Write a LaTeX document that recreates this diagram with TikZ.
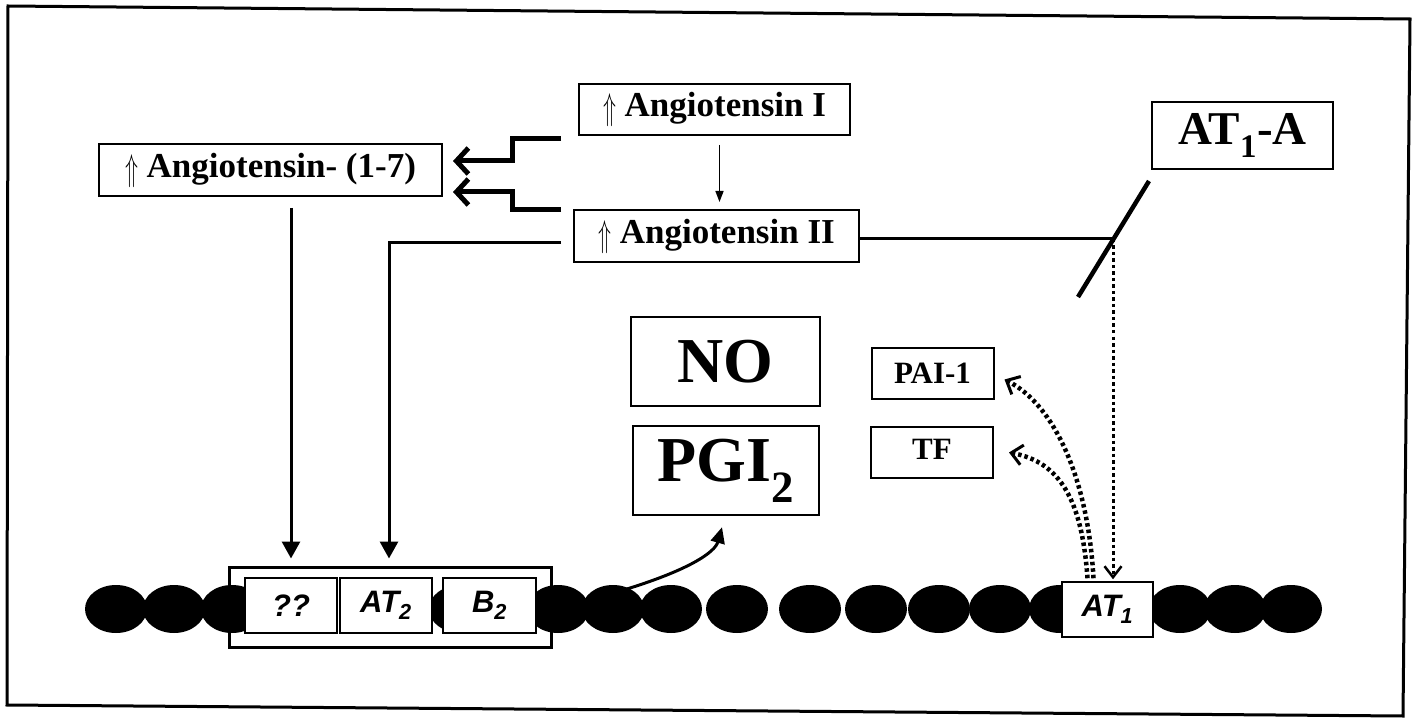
\documentclass[tikz,border=0pt]{standalone}
\usepackage{fontspec}
\setmainfont{Liberation Serif}
\setsansfont{Liberation Sans}
\usetikzlibrary{arrows.meta,shapes.geometric}
\newcommand{\uparr}{\raisebox{-3pt}{\scalebox{0.85}[1.5]{$\Uparrow$}}}
\begin{document}
\begin{tikzpicture}[x=1pt,y=-1pt,
  lbl/.style={draw,line width=2pt,fill=white,inner sep=0pt,font=\bfseries\fontsize{35}{40}\selectfont},
  big/.style={draw,line width=2.4pt,fill=white,inner sep=0pt,font=\bfseries\fontsize{64}{70}\selectfont},
  small/.style={draw,line width=2pt,fill=white,inner sep=0pt,minimum width=122pt,minimum height=51pt,font=\bfseries\fontsize{31}{36}\selectfont},
  mem/.style={draw,line width=1.5pt,fill=white,inner sep=0pt,minimum width=92pt,minimum height=55pt,font=\sffamily\bfseries\itshape\fontsize{31}{34}\selectfont},
  bead/.style={ellipse,fill=black,minimum width=62pt,minimum height=48pt,inner sep=0pt},
  conn/.style={line width=3pt},
  ftip/.style={-{Triangle[length=17pt,width=18pt]}},
  thinarr/.style={line width=1.5pt,-{Triangle[length=11pt,width=8pt]}},
  chev/.style={line width=5pt,-{Straight Barb[length=12pt,width=26pt]}},
  dotarr/.style={line width=3pt,dash pattern=on 3.5pt off 3pt,-{Straight Barb[length=11pt,width=17pt,line width=2.5pt]}},
  thickdot/.style={line width=4.5pt,dash pattern=on 3.5pt off 3pt,-{Straight Barb[length=11pt,width=20pt,line width=3pt]}}
]
\useasboundingbox (0,0) rectangle (1419,719);
% outer frame (slightly skewed as scanned)
\draw[line width=3pt] (8,6) -- (1410,19) -- (1403,716) -- (7,705) -- cycle;

% labels
\node[lbl,minimum width=271pt,minimum height=51pt] (a1) at (714.5,109.5) {\uparr\ Angiotensin I};
\node[lbl,minimum width=343pt,minimum height=52pt] (a17) at (270.5,170) {\uparr\ Angiotensin- (1-7)};
\node[lbl,minimum width=285pt,minimum height=52pt] (a2) at (716.5,236) {\uparr\ Angiotensin II};
\node[draw,line width=2pt,inner sep=0pt,minimum width=181pt,minimum height=67pt,font=\bfseries\fontsize{47}{52}\selectfont] (at1a) at (1242.5,135.5) {AT\textsubscript{1}-A};
\node[big,minimum width=189pt,minimum height=89pt] (no) at (725.5,361.5) {NO};
\node[big,minimum width=186pt,minimum height=89pt] (pgi) at (726,470.5) {PGI\textsubscript{2}};
\node[small] (pai) at (932.5,373.5) {PAI-1};
\node[small] (tf) at (932,452.5) {\raisebox{7pt}{TF}};

% membrane beads
\foreach \bx [count=\i] in {116,174,232,460,558,613,671,737,810,876,939,1000,1060,1180,1235,1291}
  \node[bead] (e\i) at (\bx,609) {};

% receptor group
\node[draw,line width=3pt,inner sep=0pt,minimum width=322pt,minimum height=80pt] (grp) at (390,607) {};
\node[mem] (qq) at (291,605.5) {??};
\node[mem] (at2) at (386,605.5) {AT\textsubscript{2}};
\node[mem,minimum width=93pt] (b2) at (489.5,605.5) {B\textsubscript{2}};
\node[mem,minimum width=91pt] (at1) at (1107.5,609.5) {AT\textsubscript{1}};

% Ang I -> Ang II
\draw[thinarr,shorten <=9pt,shorten >=7pt] ([xshift=5pt]a1.south) -- ([xshift=3pt]a2.north);

% thick brackets to Ang-(1-7)
\draw[chev] ([xshift=-17pt,yshift=-3pt]a1.south west) -- ++(-49,0) |- ([xshift=10pt,yshift=9pt]a17.east);
\draw[chev] ([xshift=-12pt,yshift=-1pt]a2.north west) -- ++(-49,0) |- ([xshift=10pt,yshift=-22pt]a17.east);

% Ang-(1-7) -> ??
\draw[conn,ftip,shorten >=7pt] ([yshift=-11pt]a17.south -| qq.north) -- (qq.north |- grp.north);
% Ang II -> AT2
\draw[conn,ftip,shorten <=12pt,shorten >=7pt] ([yshift=-7pt]a2.west) -| ([xshift=3pt]at2.north |- grp.north);

% Ang II -> AT1 blocked by AT1-A
\coordinate (X) at (1113,239);
\draw[conn] ([yshift=-3pt]a2.east) -- (X);
\coordinate (sTop) at ([xshift=-2pt,yshift=-11pt]at1a.south west);
\coordinate (sBot) at (1078,297);
\draw[line width=4.5pt] (sTop) -- (sBot);
\draw[dotarr,shorten >=2pt] (X) -- (X |- at1.north);

% AT1 -> PAI-1, TF
\draw[thickdot] ([xshift=-14pt,yshift=3pt]at1.north) .. controls (1088,480) and (1055,405) .. ([xshift=10pt,yshift=-6pt]pai.east);
\draw[thickdot] ([xshift=-20pt,yshift=3pt]at1.north) .. controls (1082,500) and (1060,462) .. ([xshift=15pt]tf.east);

% membrane -> PGI2
\draw[conn,-{Triangle[length=16pt,width=14pt]}] ([xshift=8pt,yshift=-6pt]e6.north) .. controls (690,570) and (715,552) .. ([xshift=-4pt,yshift=-11pt]pgi.south);
\end{tikzpicture}
\end{document}
